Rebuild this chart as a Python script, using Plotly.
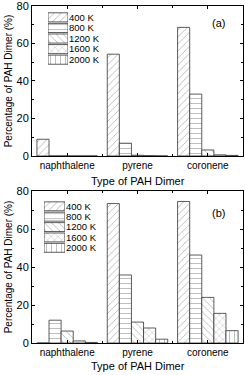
import plotly.graph_objects as go
from plotly.subplots import make_subplots

categories = ["naphthalene", "pyrene", "coronene"]
temps = ["400 K", "800 K", "1200 K", "1600 K", "2000 K"]
patterns = ["/", "-", "\\", "x", "|"]

# panel (a) values (%), per temperature across categories
vals_a = {
    "400 K": [8.9, 54.3, 68.6],
    "800 K": [0.0, 6.8, 33.0],
    "1200 K": [0.0, 0.4, 3.2],
    "1600 K": [0.0, 0.15, 0.6],
    "2000 K": [0.0, 0.0, 0.3],
}
# panel (b) values (%)
vals_b = {
    "400 K": [0.0, 73.4, 74.5],
    "800 K": [12.0, 35.8, 46.3],
    "1200 K": [6.3, 11.0, 24.0],
    "1600 K": [1.1, 7.9, 15.6],
    "2000 K": [0.3, 2.0, 6.5],
}
yticks = [0, 20, 40, 60, 80]
legend_len = [1, 1, 1, 1, 1]

xpos = [1, 2, 3]
PAT_FG = "#555"
LINE_C = "#333"

fig = make_subplots(rows=2, cols=1, vertical_spacing=0.104)

for row, vals in [(1, vals_a), (2, vals_b)]:
    for t, p in zip(temps, patterns):
        fig.add_trace(
            go.Bar(
                x=xpos, y=vals[t], name=t, showlegend=False,
                marker=dict(color="white",
                            line=dict(color=LINE_C, width=0.8),
                            pattern=dict(shape=p, fgcolor=PAT_FG, bgcolor="white",
                                         size=5, solidity=0.15, fillmode="overlay")),
            ),
            row=row, col=1,
        )

# legend key panels built as small bar charts
for xa, ya in [("x3", "y3"), ("x4", "y4")]:
    fig.add_trace(go.Bar(
        x=legend_len, y=temps, orientation="h", showlegend=False,
        xaxis=xa, yaxis=ya, hoverinfo="skip",
        marker=dict(color="white", line=dict(color=LINE_C, width=0.8),
                    pattern=dict(shape=patterns, fgcolor=PAT_FG, bgcolor="white",
                                 size=5, solidity=0.15, fillmode="overlay")),
    ))

font_family = "Liberation Sans, Arial, sans-serif"
for row in (1, 2):
    fig.update_xaxes(
        range=[0.5, 3.5], tickvals=xpos, ticktext=categories,
        ticks="inside", ticklen=3, mirror="ticks", showline=True,
        linecolor="black", linewidth=1, tickcolor="black",
        minor=dict(tickvals=[1.5, 2.5], ticks="inside", ticklen=2, tickcolor="black"),
        tickfont=dict(size=10, color="black"), showgrid=False, zeroline=False,
        automargin=False, ticklabeloverflow="allow", row=row, col=1,
    )
    fig.update_yaxes(
        range=[0, 80], tickvals=yticks,
        ticks="inside", ticklen=3, mirror="ticks", showline=True,
        linecolor="black", linewidth=1, tickcolor="black",
        minor=dict(dtick=10, ticks="inside", ticklen=2, tickcolor="black"),
        title=dict(text="Percentage of PAH Dimer (%)", font=dict(size=10, color="black"), standoff=2),
        tickfont=dict(size=11, color="black"), showgrid=False, zeroline=False,
        automargin=False, ticklabeloverflow="allow", row=row, col=1,
    )

legend_axis_common = dict(showgrid=False, zeroline=False, showline=False, fixedrange=True)
legend_y_common = dict(autorange="reversed", side="right", ticks="",
                       tickmode="array", tickvals=temps, ticktext=temps,
                       tickfont=dict(size=9.5, color="black"), automargin=False,
                       ticklabeloverflow="allow", **legend_axis_common)

def ann(text, x, y, size=11):
    return dict(text=text, x=x, y=y, xref="paper", yref="paper",
                xanchor="center", yanchor="middle",
                showarrow=False, font=dict(size=size, color="black"))

fig.update_layout(
    width=245, height=375,
    margin=dict(l=32, r=2, t=6, b=32),
    paper_bgcolor="white", plot_bgcolor="white",
    barmode="group", bargap=0.14, bargroupgap=0,
    font=dict(family=font_family, color="black"),
    showlegend=False,
    xaxis3=dict(domain=[0.0758, 0.1706], range=[0, 1], anchor="y3",
                showticklabels=False, ticks="", **legend_axis_common),
    yaxis3=dict(domain=[0.825, 0.982], anchor="x3", **legend_y_common),
    xaxis4=dict(domain=[0.057, 0.156], range=[0, 1], anchor="y4",
                showticklabels=False, ticks="", **legend_axis_common),
    yaxis4=dict(domain=[0.267, 0.421], anchor="x4", **legend_y_common),
    annotations=[
        ann("(a)", 0.886, 0.950),
        ann("(b)", 0.886, 0.386),
        ann("Type of PAH Dimer", 0.5, 0.481),
        ann("Type of PAH Dimer", 0.5, -0.068),
    ],
)
fig.update_yaxes(domain=[0.555, 1.0], row=1, col=1)
fig.update_yaxes(domain=[0.0, 0.451], row=2, col=1)

fig.write_html("out.html", config={"displayModeBar": False},
               post_script="document.body.style.margin='0px';")
